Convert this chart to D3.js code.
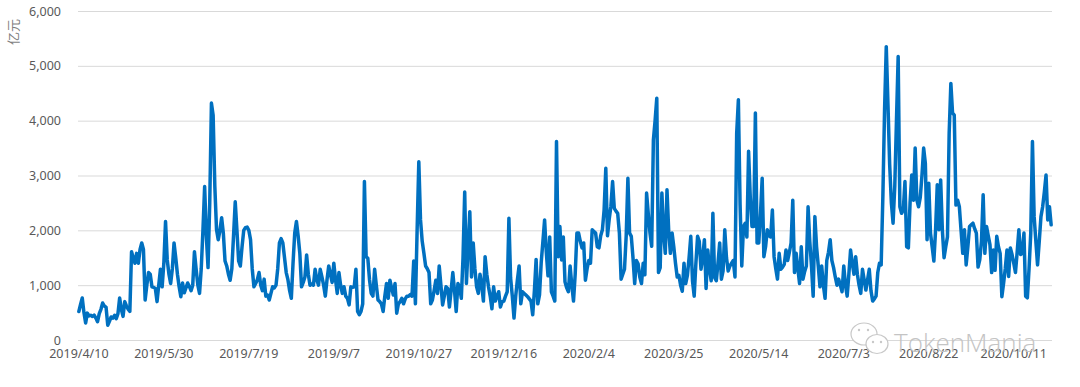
<!DOCTYPE html>
<html>
<head>
<meta charset="utf-8">
<script src="https://cdn.jsdelivr.net/npm/d3@7"></script>
<style>
  html, body { margin: 0; padding: 0; background: #ffffff; }
  svg { display: block; }
</style>
</head>
<body>
<svg id="chart" width="1080" height="387"></svg>
<script>
// ---- data ----
const startDate = "2019-04-10";
const values = [
520,650,766,500,310,490,440,450,430,455,400,335,480,560,675,620,600,270,340,420,
400,450,390,480,765,560,430,700,620,560,520,1610,1500,1400,1580,1400,1650,1770,1650,730,
1000,1230,1200,970,960,940,700,1000,1290,970,1400,2160,1460,1200,1030,1300,1770,1500,1200,970,
790,1040,860,950,1040,980,900,1000,1610,1290,1000,850,1300,2000,2800,1900,1320,2500,4320,4100,
2800,2010,1830,2000,2230,1950,1440,1350,1200,1090,1300,1900,2520,2000,1440,1350,1700,2000,2050,2060,
2000,1830,1300,970,1030,1100,1230,1000,900,1110,800,820,730,850,970,950,1000,1300,1770,1850,
1770,1500,1230,1100,900,760,1400,1950,2160,1900,1580,970,1050,1150,1550,1200,1000,1020,1000,1290,
1100,1000,1290,1150,1000,800,1100,1350,1200,1050,1400,1100,850,1230,1000,850,970,800,760,640,
970,960,970,1290,520,460,520,660,2890,1520,1490,1100,850,800,1290,1000,730,700,660,520,
800,1030,760,1090,950,820,1030,490,660,700,760,660,750,800,800,830,800,1440,660,2000,
3250,2190,1800,1580,1350,1300,1230,660,730,900,1090,850,1350,1000,640,800,970,940,600,900,
1230,900,520,1030,970,760,1500,2700,1030,1700,2340,1150,1770,1300,970,850,1200,1000,710,1520,
1200,970,800,570,970,710,800,880,600,700,710,800,880,2220,1130,800,400,800,1100,1350,
660,880,850,820,790,750,710,460,900,1470,660,820,1410,1800,2190,1600,1170,1880,880,800,
710,3620,1520,2070,1460,1880,1060,950,880,1350,1000,710,1200,1950,1950,1800,1680,1770,1090,1300,
1450,1400,2010,1980,1950,1700,1680,1900,2010,2370,3130,1900,2200,2440,2890,2400,2350,2310,1950,1110,
1200,1290,1900,2950,1950,1890,1500,1030,1450,1390,1150,1030,1400,1190,2680,2300,1950,1710,3650,4000,
4410,1230,1320,2680,1950,1580,2740,2000,1580,1950,1700,1400,1150,1180,1000,890,1400,1030,1180,1500,
1890,1080,800,1400,1890,1800,1290,1500,1830,940,1640,1300,1080,2310,1140,1080,1400,1770,1110,1260,
2010,1500,1260,1350,1400,1450,1150,3770,4380,2470,1350,2070,2130,1880,3440,2600,2070,2070,4140,1770,
1770,2300,2950,1520,1700,2010,1900,1880,2370,1520,1300,1110,1580,1290,1330,1380,1640,1450,1600,1770,
2550,1230,1580,1300,1030,1700,1110,1250,1350,2430,1800,1350,800,2250,1700,1350,970,1350,1000,760,
1450,1600,1830,1450,1320,1150,1000,1110,1000,880,1350,1000,800,1200,1640,1400,1200,1520,1200,1000,
850,1290,1100,910,1100,1290,900,710,750,800,1230,1400,1370,2620,4200,5350,4300,3200,2500,2130,
2800,4000,5170,2430,2310,2370,2890,1700,1680,2500,3010,2550,3500,2550,2430,2600,3000,3500,3220,1830,
2860,1950,1700,1440,2000,2830,2010,2920,2000,1500,1700,1880,3770,4680,4140,4100,2460,2550,2430,2000,
1580,2010,1370,1700,2070,2100,2130,2030,1950,1330,1460,1800,2650,1580,2070,1900,1740,1230,1640,1270,
1890,1700,1580,790,1030,1300,1640,1160,1680,1560,1400,1230,1600,2010,1560,1580,1950,800,770,1300,
1950,3620,2250,1800,1370,1800,2250,2430,2700,3010,2190,2430,2100
];
const tickLabels = ["2019/4/10","2019/5/30","2019/7/19","2019/9/7","2019/10/27","2019/12/16",
  "2020/2/4","2020/3/25","2020/5/14","2020/7/3","2020/8/22","2020/10/11"];
const tickStep = 50;
const yTicks = [0,1000,2000,3000,4000,5000,6000];
const yTitle = "亿元";
const watermark = "TokenMania";

// categories (one per day)
const parse = d3.timeParse("%Y-%m-%d");
const dates = values.map((v, i) => d3.timeDay.offset(parse(startDate), i));

// ---- layout ----
const svg = d3.select("#chart");
const plotL = 78, plotR = 1052, plotT = 11, plotB = 340;

const x = d3.scaleBand().domain(d3.range(values.length)).range([plotL, plotR]).padding(0);
const y = d3.scaleLinear().domain([0, 6000]).range([plotB, plotT]);
const cx = i => x(i) + x.bandwidth() / 2;

// gridlines + y labels
const yAxis = svg.append("g")
  .attr("transform", `translate(${plotL},0)`)
  .call(d3.axisLeft(y).tickValues(yTicks).tickFormat(d3.format(",")).tickSize(-(plotR - plotL)).tickPadding(17));
yAxis.select(".domain").remove();
yAxis.selectAll(".tick line").attr("stroke", "#d9d9d9").attr("stroke-width", 1);
yAxis.selectAll(".tick text")
  .attr("fill", "#595959").style("font-family", "'Noto Sans', sans-serif").style("font-size", "12.5px");

// x labels
const xAxis = svg.append("g")
  .attr("transform", `translate(0,${plotB})`)
  .call(d3.axisBottom(x)
    .tickValues(tickLabels.map((t, k) => k * tickStep))
    .tickFormat((d, k) => tickLabels[k])
    .tickSize(0).tickPadding(9));
xAxis.select(".domain").remove();
xAxis.selectAll(".tick text")
  .attr("fill", "#595959").style("font-family", "'Noto Sans', sans-serif").style("font-size", "12.5px");

// y title
svg.append("text")
  .attr("transform", `translate(18,32) rotate(-90)`)
  .attr("text-anchor", "middle")
  .attr("fill", "#7f7f7f")
  .style("font-family", "'Noto Sans CJK SC', sans-serif")
  .style("font-size", "13px")
  .text(yTitle);

// watermark
const wm = svg.append("g");
wm.append("ellipse").attr("cx", 864).attr("cy", 334).attr("rx", 13).attr("ry", 11)
  .attr("fill", "#fff").attr("stroke", "#c8c8c8").attr("stroke-width", 1.2);
wm.append("ellipse").attr("cx", 877).attr("cy", 344).attr("rx", 11).attr("ry", 9.5)
  .attr("fill", "#fff").attr("stroke", "#c8c8c8").attr("stroke-width", 1.2);
[[859,330],[868,330],[873,342],[881,342]].forEach(p =>
  wm.append("circle").attr("cx", p[0]).attr("cy", p[1]).attr("r", 1.2).attr("fill", "#c8c8c8"));
wm.append("text").attr("x", 894).attr("y", 352)
  .attr("fill", "#c4c4c4")
  .style("font-family", "'Open Sans', sans-serif").style("font-weight", 300)
  .style("font-size", "26px").text(watermark);

// line
const line = d3.line().x((d, i) => cx(i)).y(d => y(d));
svg.append("path")
  .datum(values)
  .attr("d", line)
  .attr("fill", "none")
  .attr("stroke", "#0070c0")
  .attr("stroke-width", 3.5)
  .attr("stroke-linejoin", "round")
  .attr("stroke-linecap", "round");
</script>
</body>
</html>
